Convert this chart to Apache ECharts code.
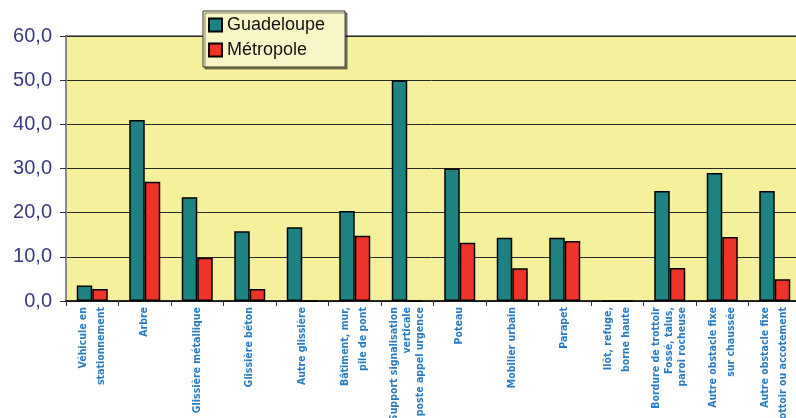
<!DOCTYPE html>
<html>
<head>
<meta charset="utf-8">
<script src="https://cdn.jsdelivr.net/npm/echarts@6/dist/echarts.min.js"></script>
<style>
html,body{margin:0;padding:0;background:#fff;}
#chart{width:796px;height:418px;}
</style>
</head>
<body>
<div id="chart"></div>
<script>
var categories = [
  "Véhicule en\nstationnement",
  "Arbre",
  "Glissière métallique",
  "Glissière béton",
  "Autre glissière",
  "Bâtiment, mur,\npile de pont",
  "Support signalisation\nverticale\nou poste appel urgence",
  "Poteau",
  "Mobilier urbain",
  "Parapet",
  "Ilôt, refuge,\nborne haute",
  "Bordure de trottoir\nFossé, talus,\nparoi rocheuse",
  "Autre obstacle fixe\nsur chaussée",
  "Autre obstacle fixe\nsur trottoir ou accotement"
];
var guadeloupe = [3.5, 41.0, 23.5, 15.8, 16.7, 20.4, 50.0, 30.0, 14.3, 14.3, 0, 24.9, 29.0, 24.9];
var metropole  = [2.7, 27.0, 9.8, 2.7, 0, 14.8, 0, 13.2, 7.4, 13.6, 0, 7.5, 14.5, 4.9];
var yTicks = [0, 10, 20, 30, 40, 50, 60];

var labelFont = {
  fontFamily: 'DejaVu Sans Condensed, Liberation Sans Narrow, sans-serif',
  fontWeight: 'bold',
  fontSize: 10.5,
  color: '#2a7bc1'
};

var chart = echarts.init(document.getElementById('chart'), null, {renderer: 'canvas'});
chart.setOption({
  animation: false,
  backgroundColor: '#ffffff',
  grid: {
    left: 66, top: 36, right: -5, bottom: 117,
    containLabel: false,
    outerBoundsMode: 'none',
    show: true,
    backgroundColor: '#f5f09c',
    borderColor: '#8a8a8a',
    borderWidth: 2
  },
  legend: {
    orient: 'vertical',
    left: 203, top: 11,
    padding: [5, 20, 8, 5],
    itemGap: 7,
    itemWidth: 13, itemHeight: 13,
    icon: 'rect',
    backgroundColor: '#f8f5c6',
    borderColor: '#333',
    borderWidth: 1,
    shadowColor: 'rgba(0,0,0,0.45)',
    shadowOffsetX: 2, shadowOffsetY: 2, shadowBlur: 0,
    textStyle: {fontFamily: 'Liberation Sans, Arial, sans-serif', fontSize: 18, color: '#111'},
    data: ['Guadeloupe', 'Métropole']
  },
  xAxis: {
    type: 'category',
    data: categories,
    axisLine: {lineStyle: {color: '#111', width: 1.5}},
    axisTick: {show: true, length: 5, lineStyle: {color: '#333'}},
    axisLabel: Object.assign({
      interval: 0,
      rotate: 90,
      margin: 6,
      lineHeight: 13,
      formatter: function (v) {
        var lines = v.split('\n');
        var k = lines.length >= 3 ? 't' : 'd';
        return lines.map(function (l) { return '{' + k + '|' + l + '}'; }).join('\n');
      },
      rich: {
        t: Object.assign({lineHeight: 13}, labelFont),
        d: Object.assign({lineHeight: 18}, labelFont)
      }
    }, labelFont)
  },
  yAxis: {
    type: 'value',
    min: yTicks[0],
    max: yTicks[yTicks.length - 1],
    interval: 10,
    axisLine: {show: true, lineStyle: {color: '#8a8a8a', width: 2}},
    axisTick: {show: true, length: 6, lineStyle: {color: '#333'}},
    splitLine: {show: true, lineStyle: {color: '#2a2a2a', width: 1}},
    axisLabel: {
      margin: 14,
      fontFamily: 'Liberation Sans, Arial, sans-serif',
      fontSize: 20,
      color: '#3a3a80',
      formatter: function (v) { return v.toFixed(1).replace('.', ','); }
    }
  },
  series: [
    {
      name: 'Guadeloupe',
      type: 'bar',
      data: guadeloupe,
      barWidth: 15.5,
      barGap: '0%',
      itemStyle: {color: '#1e8282', borderColor: '#000', borderWidth: 1.5}
    },
    {
      name: 'Métropole',
      type: 'bar',
      data: metropole,
      barWidth: 15.5,
      barGap: '0%',
      itemStyle: {color: '#ee3328', borderColor: '#000', borderWidth: 1.5}
    }
  ]
});
</script>
</body>
</html>
